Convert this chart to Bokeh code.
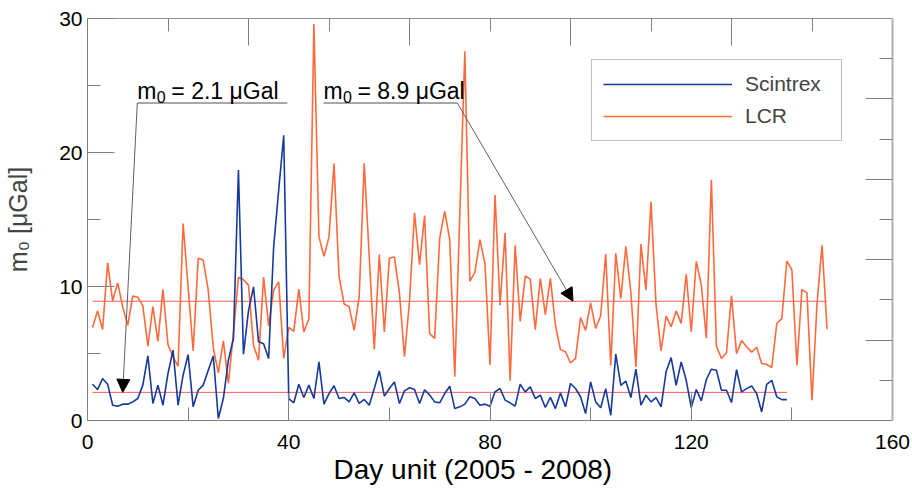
from bokeh.plotting import figure
from bokeh.models import (Range1d, LinearAxis, FixedTicker, CustomJSTickFormatter,
                          Label, Arrow, NormalHead, Legend, LegendItem, Title)
from bokeh.embed import file_html
from bokeh.resources import INLINE

# ---------------- data ----------------
scintrex_day = list(range(1, 140))
scintrex_m0 = [2.71, 2.31, 3.13, 2.71, 1.14, 1.07, 1.22, 1.22, 1.39, 1.64,
               2.64, 4.82, 1.27, 2.64, 1.14, 3.51, 5.25, 1.14, 3.38, 4.92,
               1.02, 2.26, 2.64, 3.75, 4.82, 0.15, 1.64, 4.5, 6.1, 18.7,
               4.95, 8.2, 9.97, 5.87, 5.72, 4.62, 12.96, 17.19, 21.29, 1.64,
               1.32, 2.71, 1.72, 2.64, 1.64, 4.38, 1.22, 2.01, 2.59, 1.64,
               1.72, 1.39, 2.06, 1.27, 1.57, 1.14, 2.39, 3.7, 1.82, 2.39,
               2.88, 1.27, 2.21, 2.44, 2.31, 1.27, 2.3, 1.9, 1.39, 1.32,
               2.01, 2.56, 0.89, 1.02, 1.22, 1.77, 1.64, 1.14, 1.22, 1.07,
               2.14, 2.39, 1.52, 1.32, 1.07, 2.71, 2.14, 2.51, 1.64, 1.89,
               0.97, 1.72, 0.89, 2.06, 1.02, 2.76, 2.39, 1.77, 0.52, 2.88,
               1.39, 0.95, 2.38, 0.39, 4.95, 2.63, 2.93, 1.71, 3.83, 1.14,
               1.89, 1.39, 1.71, 1.02, 3.63, 4.7, 2.63, 4.37, 3.0, 0.97,
               2.31, 1.46, 3.06, 3.83, 3.75, 2.26, 2.26, 1.34, 3.8, 2.13,
               2.38, 2.58, 2.01, 0.64, 2.7, 3.0, 1.76, 1.56, 1.56]

lcr_day = ([d for d in range(1, 20)] + [d for d in range(21, 56)] +
           [d for d in range(57, 74)] + [d for d in range(75, 148)])
lcr_m0 = [6.94, 8.18, 6.79, 11.76, 8.93, 10.27, 8.48, 7.11, 9.28, 9.2,
          8.55, 5.55, 8.5, 5.9, 9.78, 5.65, 4.75, 4.05, 14.7,
          5.2, 12.1, 11.97, 9.72, 5.4, 3.55, 5.95, 2.77, 6.5, 10.7,
          10.5, 10.1, 5.6, 4.5, 10.7, 7.05, 9.73, 10.35, 4.63, 6.95,
          6.65, 9.8, 6.6, 7.6, 29.58, 13.7, 12.25, 13.7, 19.18, 10.73,
          8.7, 8.5, 6.72, 9.24, 19.19,
          5.3, 12.38, 6.6, 12.12, 12.2, 9.5, 4.76, 8.9, 15.5, 11.63,
          15.3, 6.48, 6.13, 13.6, 15.6, 13.5, 3.27,
          27.55, 10.4, 11.05, 13.5, 11.7, 4.14, 16.82, 8.6, 14.0, 2.96,
          13.08, 7.4, 10.78, 10.55, 6.78, 10.6, 7.9, 10.6, 7.12, 5.29,
          5.13, 4.29, 4.63, 7.68, 6.72, 8.77, 6.87, 7.82, 12.42, 4.1,
          12.47, 9.1, 12.99, 9.55, 3.99, 13.16, 9.73, 16.32, 8.65, 5.2,
          7.79, 7.0, 8.18, 7.25, 10.9, 6.62, 11.88, 10.1, 6.15, 17.97,
          5.55, 4.63, 5.05, 9.32, 4.98, 5.97, 5.5, 5.1, 5.47, 4.25,
          4.2, 3.95, 7.24, 7.6, 11.9, 11.25, 4.1, 9.77, 9.52, 1.51,
          8.73, 13.08, 6.81]

mean_scintrex = 2.1
mean_lcr = 8.9

x_major = [0, 40, 80, 120, 160]
x_minor = [20, 60, 100, 140]
y_major = [0, 10, 20, 30]
y_minor = [5, 15, 25]
top_major = [32, 64, 96, 128]
top_minor = [16, 48, 80, 112, 144]
right_major = [6, 12, 18, 24]
right_minor = [3, 9, 15, 21, 27]

x_title = "Day unit (2005 - 2008)"
y_title = "m\u2080 [\u03bcGal]"

# annotation anchor positions (data units)
ann1_value = "= 2.1 \u03bcGal"
ann1_x, ann1_y, ann1_end_x, ann1_arrow_x = 9.9, 23.7, 39.7, 7.0
ann2_value = "= 8.9 \u03bcGal"
ann2_x, ann2_y, ann2_end_x, ann2_arrow_x = 46.9, 23.7, 73.5, 96.5

# ---------------- styling ----------------
FONT = "Liberation Sans"
BLUE = "#163a9c"
ORANGE = "#ff6a3d"
MEANRED = "#f25c5c"
FRAME = "#808080"

p = figure(width=912, height=490, output_backend="svg", toolbar_location=None,
           x_range=Range1d(0, 160), y_range=Range1d(0, 30),
           min_border_left=87, min_border_right=20, min_border_top=18,
           min_border_bottom=70, x_axis_location=None, y_axis_location=None)
p.outline_line_color = None
p.xgrid.visible = False
p.ygrid.visible = False
p.background_fill_color = "white"


def style_axis(ax, major, minor, labels=True, line_color=FRAME, line_width=1):
    ax.ticker = FixedTicker(ticks=major, minor_ticks=minor)
    ax.major_tick_in = 27
    ax.major_tick_out = 0
    ax.minor_tick_in = 13
    ax.minor_tick_out = 0
    ax.major_tick_line_color = FRAME
    ax.minor_tick_line_color = FRAME
    ax.axis_line_color = line_color
    ax.axis_line_width = line_width
    if labels:
        ax.major_label_text_font = FONT
        ax.major_label_text_font_size = "21px"
        ax.major_label_text_color = "black"
    else:
        ax.formatter = CustomJSTickFormatter(code="return ''")
        ax.major_label_text_font_size = "0px"
        ax.major_label_standoff = 0


xb = LinearAxis()
style_axis(xb, x_major, x_minor)
xb.major_label_standoff = 14
p.add_layout(xb, "below")

# x-axis title: sits a little left of the frame centre in the original
xtitle = Title(text=x_title, align="left", offset=246, standoff=0,
               text_font=FONT, text_font_size="28px", text_font_style="normal",
               text_color="black")
p.add_layout(xtitle, "below")

yl = LinearAxis()
style_axis(yl, y_major, y_minor)
yl.major_label_standoff = 5
yl.axis_label = y_title
yl.axis_label_text_font = FONT
yl.axis_label_text_font_size = "25px"
yl.axis_label_text_font_style = "normal"
yl.axis_label_standoff = 24
p.add_layout(yl, "left")

xt = LinearAxis()
style_axis(xt, top_major, top_minor, labels=False, line_color="#909090")
p.add_layout(xt, "above")

yr = LinearAxis()
style_axis(yr, right_major, right_minor, labels=False, line_color="#b0b0b0", line_width=2)
p.add_layout(yr, "right")

# mean lines
p.line([lcr_day[0], lcr_day[-1]], [mean_lcr, mean_lcr], line_color=MEANRED, line_width=1)
p.line([scintrex_day[0], scintrex_day[-1]], [mean_scintrex, mean_scintrex],
       line_color=MEANRED, line_width=1)

r_lcr = p.line(lcr_day, lcr_m0, line_color=ORANGE, line_width=1.6)
r_sc = p.line(scintrex_day, scintrex_m0, line_color=BLUE, line_width=1.6)

# annotations
for val, xs, xe, ya, xa, ymean, from_left in [
        (ann1_value, ann1_x, ann1_end_x, ann1_y, ann1_arrow_x, mean_scintrex, True),
        (ann2_value, ann2_x, ann2_end_x, ann2_y, ann2_arrow_x, mean_lcr, False)]:
    p.line([xs, xe], [ya, ya], line_color="#8a8a8a", line_width=1.5)
    p.add_layout(Arrow(end=NormalHead(size=13, fill_color="black", line_color="black"),
                       x_start=xs if from_left else xe, y_start=ya, x_end=xa, y_end=ymean,
                       line_color="#606060", line_width=1))
    p.add_layout(Label(x=xs, y=ya, y_offset=12, text="m",
                       text_font=FONT, text_font_size="23px", text_color="black",
                       text_baseline="alphabetic"))
    p.add_layout(Label(x=xs, y=ya, x_offset=19.5, y_offset=6, text="0",
                       text_font=FONT, text_font_size="16px", text_color="black",
                       text_baseline="alphabetic"))
    p.add_layout(Label(x=xs, y=ya, x_offset=34, y_offset=12, text=val,
                       text_font=FONT, text_font_size="23px", text_color="black",
                       text_baseline="alphabetic"))

legend = Legend(items=[LegendItem(label="Scintrex", renderers=[r_sc]),
                       LegendItem(label="LCR", renderers=[r_lcr])],
                location=(504, 279))
legend.label_text_font = FONT
legend.label_text_font_size = "21px"
legend.glyph_width = 129
legend.glyph_height = 26
legend.label_height = 26
legend.label_width = 85
legend.label_standoff = 13
legend.padding = 11
legend.spacing = 6
legend.margin = 0
legend.border_line_color = FRAME
legend.border_line_width = 1
legend.background_fill_color = "white"
legend.background_fill_alpha = 1
p.add_layout(legend, "center")

open("out.html", "w").write(file_html(p, INLINE))
